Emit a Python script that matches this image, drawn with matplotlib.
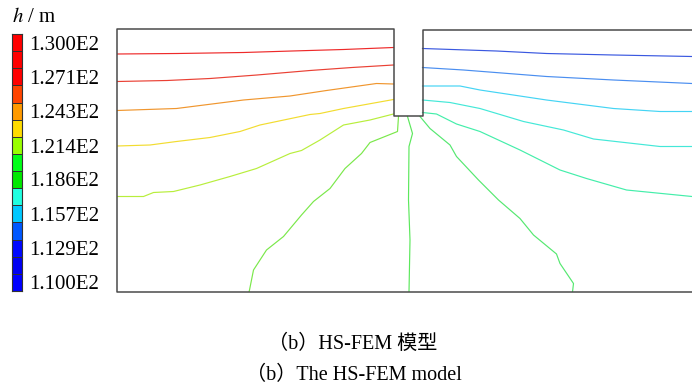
import matplotlib
matplotlib.use('Agg')
import matplotlib.pyplot as plt
import numpy as np

plt.rcParams['font.family'] = ['Liberation Serif', 'Noto Sans CJK SC']
plt.rcParams['mathtext.fontset'] = 'stix'

# legend of total head h (m)
head_ticks = [110.0, 112.9, 115.7, 118.6, 121.4, 124.3, 127.1, 130.0]
band_colors = ['#0000ff', '#0000f2', '#0008ff', '#0058ff', '#00c8ff',
               '#20ffe0', '#00e800', '#00ff18', '#99ff00', '#ffdc00',
               '#ff9a00', '#ff4400', '#ff0000', '#ff0000', '#ff0000']

# model geometry (m): left block, cutoff wall gap, right block
top_left = 52.6
top_right = 52.4
wall_x = [55.3, 61.1]
wall_bottom = 35.3
x_end = 116.0

# contour lines of equal head, left of the wall to right of the wall
head_levels = [128.6, 127.1, 125.7, 124.3, 122.9, 121.4, 120.0,
               118.6, 117.1, 115.7, 114.3, 112.9, 111.4]
line_colors = ['#ee2a2a', '#ea4034', '#f0962e', '#f2dc30', '#b8ee3c',
               '#7ae84a', '#5ce85c', '#55e870', '#44eeaa', '#44e8d8',
               '#44d4f4', '#4a8ef0', '#3a58e0']

h1_x = [0, 12, 25.3, 35, 45.3, 55.3]
h1_y = [47.6, 47.7, 47.9, 48.2, 48.5, 48.9]
h2_x = [0, 10, 18.6, 28, 38.6, 47, 55.3]
h2_y = [42.1, 42.3, 42.7, 43.4, 44.3, 44.9, 45.4]
h3_x = [0, 11.9, 25.3, 34.6, 41.9, 51.9, 55.3]
h3_y = [36.3, 36.7, 38.4, 39.2, 40.3, 41.7, 41.6]
h4_x = [0, 6.6, 11.9, 18.6, 24.6, 28.6, 38.6, 40.6, 45.3, 55.3]
h4_y = [29.2, 29.4, 30.1, 30.9, 32.1, 33.4, 35.5, 35.7, 36.7, 38.5]
h5_x = [0, 5.3, 7.3, 11.3, 16.6, 22.6, 27.9, 34.6, 36.9, 40.6, 45.3, 50.6, 55.3]
h5_y = [19.1, 19.1, 19.9, 20.1, 21.4, 23.1, 24.7, 27.7, 28.3, 30.4, 33.4, 34.4, 35.6]
h6_x = [56.3, 56.1, 50.6, 48.9, 45.6, 42.6, 39.3, 36.9, 33.3, 29.9, 27.3, 26.5, 26.4]
h6_y = [35.1, 32.1, 29.9, 27.7, 24.7, 20.7, 18.1, 15.4, 11.1, 8.4, 4.4, 0.4, 0]
h7_x = [58.1, 59.1, 58.4, 58.3, 58.6, 58.4]
h7_y = [35.1, 31.7, 29.1, 18.4, 10.4, 0]
h8_x = [60.6, 62.6, 66.6, 67.9, 72.3, 76.3, 80.6, 83.3, 87.9, 88.6, 91.3, 91.1]
h8_y = [35.1, 32.7, 29.4, 27.1, 22.4, 18.4, 14.7, 11.4, 7.6, 5.7, 1.7, 0]
h9_x = [61.1, 63.9, 67.9, 72.6, 80.6, 88.6, 93.9, 101.9, 115]
h9_y = [35.9, 35.6, 33.6, 32.1, 28.4, 24.4, 22.7, 20.4, 19.1]
h10_x = [61.1, 66.6, 72.6, 81.3, 89.3, 95.3, 108.6, 115]
h10_y = [38.4, 37.9, 36.7, 34.1, 32.4, 30.6, 29.1, 29.1]
h11_x = [61.1, 68.6, 72.6, 85.9, 99.3, 108.6, 115]
h11_y = [41.2, 41.2, 40.4, 38.4, 36.7, 36.1, 36.1]
h12_x = [61.1, 69.3, 85.9, 99.3, 115]
h12_y = [44.9, 44.4, 43.1, 42.4, 41.7]
h13_x = [61.1, 75.9, 85.9, 99.3, 115]
h13_y = [48.7, 48.2, 47.7, 47.4, 47.1]

lines_x = [h1_x, h2_x, h3_x, h4_x, h5_x, h6_x, h7_x, h8_x, h9_x, h10_x, h11_x, h12_x, h13_x]
lines_y = [h1_y, h2_y, h3_y, h4_y, h5_y, h6_y, h7_y, h8_y, h9_y, h10_y, h11_y, h12_y, h13_y]


fig = plt.figure(figsize=(6.92, 3.90), dpi=100)
W, H = 692.0, 390.0

# model section
ax = fig.add_axes([117 / W, 1 - 292 / H, 575 / W, 264 / H])
ax.set_xlim(0, 115)
ax.set_ylim(0, 52.8)
ax.axis('off')

outline_x = [x_end, 0, 0, wall_x[0], wall_x[0], wall_x[1], wall_x[1], x_end]
outline_y = [0, 0, top_left, top_left, wall_bottom, wall_bottom, top_right, top_right]
ax.plot(outline_x, outline_y, color='#4a4a4a', lw=1.1, clip_on=False, zorder=3)

for lx, ly, lev, c in zip(lines_x, lines_y, head_levels, line_colors):
    ax.plot(lx, ly, color=c, lw=0.85, zorder=2)

# colour legend: one box per band, labels on every second band
n_band = len(band_colors)
step = (head_ticks[-1] - head_ticks[0]) / (n_band - 1)
bounds = head_ticks[0] - step / 2 + step * np.arange(n_band + 1)

cax = fig.add_axes([12 / W, 1 - 291 / H, 10 / W, 257 / H])
cax.bar(0, step, bottom=bounds[:-1], width=1, align='edge',
        color=band_colors, edgecolor='#303030', linewidth=0.7)
cax.set_xlim(0, 1)
cax.set_ylim(bounds[0], bounds[-1])
cax.set_xticks([])
cax.yaxis.tick_right()
cax.set_yticks(head_ticks)
cax.set_yticklabels(['%.3fE2' % (v / 100) for v in head_ticks])
cax.tick_params(axis='y', length=0, pad=5, labelsize=15)
for s in cax.spines.values():
    s.set_edgecolor('#333333')
    s.set_linewidth(0.8)

fig.text(12 / W, 1 - 18 / H, r'$h$ / m', fontsize=15, ha='left', va='center')

# captions
fig.text(353 / W, 1 - 344 / H, '（b）HS-FEM 模型', fontsize=14.5,
         ha='center', va='center')
fig.text(354 / W, 1 - 375 / H, '（b）The HS-FEM model', fontsize=14.5,
         ha='center', va='center')

fig.savefig('out.png', dpi=100)
